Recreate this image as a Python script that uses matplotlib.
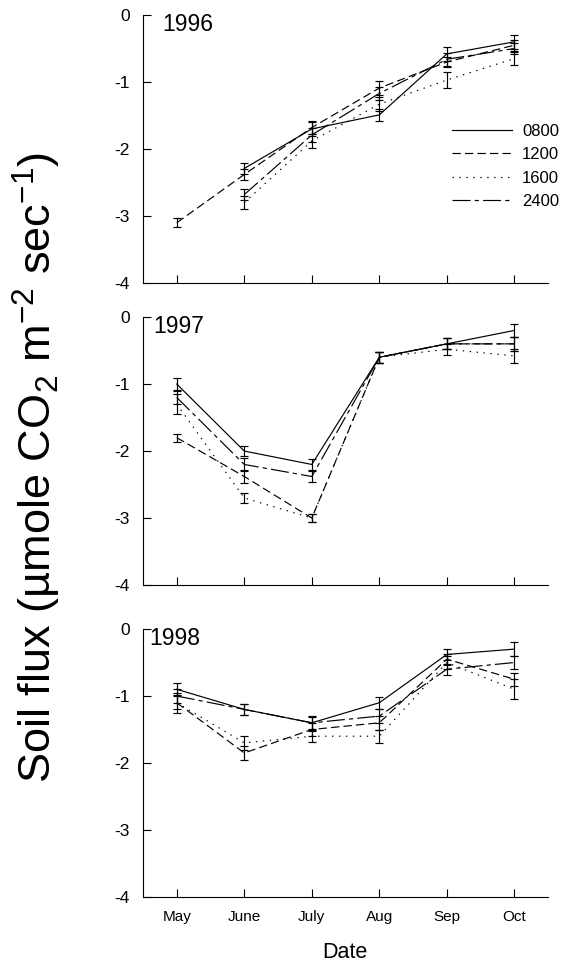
import numpy as np
import matplotlib
matplotlib.use('Agg')
import matplotlib.pyplot as plt

plt.rcParams['font.family'] = ['Liberation Sans', 'DejaVu Sans']
plt.rcParams['mathtext.fontset'] = 'custom'
plt.rcParams['mathtext.rm'] = 'Liberation Sans'
plt.rcParams['mathtext.it'] = 'Liberation Sans'
plt.rcParams['axes.unicode_minus'] = False
plt.rcParams['lines.scale_dashes'] = False

months = ['May', 'June', 'July', 'Aug', 'Sep', 'Oct']
times = ['0800', '1200', '1600', '2400']
nan = np.nan

# 1996
y96_0800 = [nan, -2.29, -1.70, -1.49, -0.58, -0.40]
y96_1200 = [-3.10, -2.38, -1.68, -1.09, -0.70, -0.45]
y96_1600 = [nan, -2.80, -1.88, -1.33, -0.97, -0.65]
y96_2400 = [nan, -2.68, -1.79, -1.17, -0.66, -0.50]
e96_0800 = [nan, 0.08, 0.10, 0.09, 0.10, 0.10]
e96_1200 = [0.07, 0.08, 0.10, 0.10, 0.08, 0.08]
e96_1600 = [nan, 0.10, 0.10, 0.10, 0.12, 0.10]
e96_2400 = [nan, 0.08, 0.10, 0.10, 0.10, 0.08]

# 1997
y97_0800 = [-1.00, -2.00, -2.20, -0.60, -0.40, -0.20]
y97_1200 = [-1.80, -2.38, -3.00, -0.60, -0.40, -0.40]
y97_1600 = [-1.30, -2.70, -3.00, -0.60, -0.48, -0.58]
y97_2400 = [-1.20, -2.20, -2.38, -0.60, -0.40, -0.40]
e97_0800 = [0.09, 0.08, 0.08, 0.08, 0.08, 0.10]
e97_1200 = [0.06, 0.10, 0.06, 0.08, 0.08, 0.10]
e97_1600 = [0.15, 0.07, 0.06, 0.08, 0.08, 0.10]
e97_2400 = [0.10, 0.10, 0.08, 0.08, 0.08, 0.10]

# 1998
y98_0800 = [-0.90, -1.20, -1.40, -1.10, -0.38, -0.30]
y98_1200 = [-1.10, -1.85, -1.50, -1.40, -0.45, -0.75]
y98_1600 = [-1.10, -1.70, -1.60, -1.60, -0.50, -0.90]
y98_2400 = [-1.00, -1.20, -1.40, -1.30, -0.60, -0.50]
e98_0800 = [0.09, 0.08, 0.09, 0.09, 0.08, 0.10]
e98_1200 = [0.10, 0.10, 0.10, 0.10, 0.08, 0.10]
e98_1600 = [0.15, 0.10, 0.08, 0.10, 0.10, 0.15]
e98_2400 = [0.10, 0.08, 0.10, 0.10, 0.08, 0.10]

years = {
    '1996': ([y96_0800, y96_1200, y96_1600, y96_2400], [e96_0800, e96_1200, e96_1600, e96_2400]),
    '1997': ([y97_0800, y97_1200, y97_1600, y97_2400], [e97_0800, e97_1200, e97_1600, e97_2400]),
    '1998': ([y98_0800, y98_1200, y98_1600, y98_2400], [e98_0800, e98_1200, e98_1600, e98_2400]),
}

styles = ['-', (0, (6, 3)), (0, (1, 4)), (0, (13, 3, 3, 3))]
x = np.arange(len(months))

fig = plt.figure(figsize=(5.69, 9.64), dpi=100)
bottoms = [0.7064, 0.3931, 0.0695]
year_x = [-0.22, -0.35, -0.40]
axes = []
for i, (yr, (vals, errs)) in enumerate(years.items()):
    ax = fig.add_axes([0.2513, bottoms[i], 0.712, 0.278])
    axes.append(ax)
    for v, e, ls, lab in zip(vals, errs, styles, times):
        ax.plot(x, v, color='black', linestyle=ls, linewidth=0.85, label=lab)
        ax.errorbar(x, v, yerr=e, fmt='none', ecolor='black', elinewidth=0.85,
                    capsize=3, capthick=0.85)
    ax.set_xlim(-0.5, 5.5)
    ax.set_ylim(-4, 0)
    ax.set_yticks([0, -1, -2, -3, -4])
    ax.set_yticklabels(['0', '-1', '-2', '-3', '-4'])
    ax.set_xticks(x)
    ax.spines['top'].set_visible(False)
    ax.spines['right'].set_visible(False)
    ax.tick_params(direction='in', length=6, width=0.8, labelsize=12.5, pad=9.5)
    if i < 2:
        ax.set_xticklabels([])
    else:
        ax.set_xticklabels(months, fontsize=11)
    ax.text(year_x[i], -0.24, yr, fontsize=16.5, va='baseline', ha='left')

axes[0].legend(loc='center left', bbox_to_anchor=(0.763, 0.435), frameon=False,
               fontsize=12, handlelength=3.6, handletextpad=0.6, labelspacing=0.5,
               borderpad=0, borderaxespad=0)

fig.text(37 / 569, 1 - 467 / 964, 'Soil flux (µmole CO$_2$ m$^{-2}$ sec$^{-1}$)',
         rotation=90, fontsize=32.5, ha='center', va='center')
fig.text(345 / 569, 1 - 952 / 964, 'Date', fontsize=15.5, ha='center', va='center')

fig.savefig('out.png', dpi=100)
